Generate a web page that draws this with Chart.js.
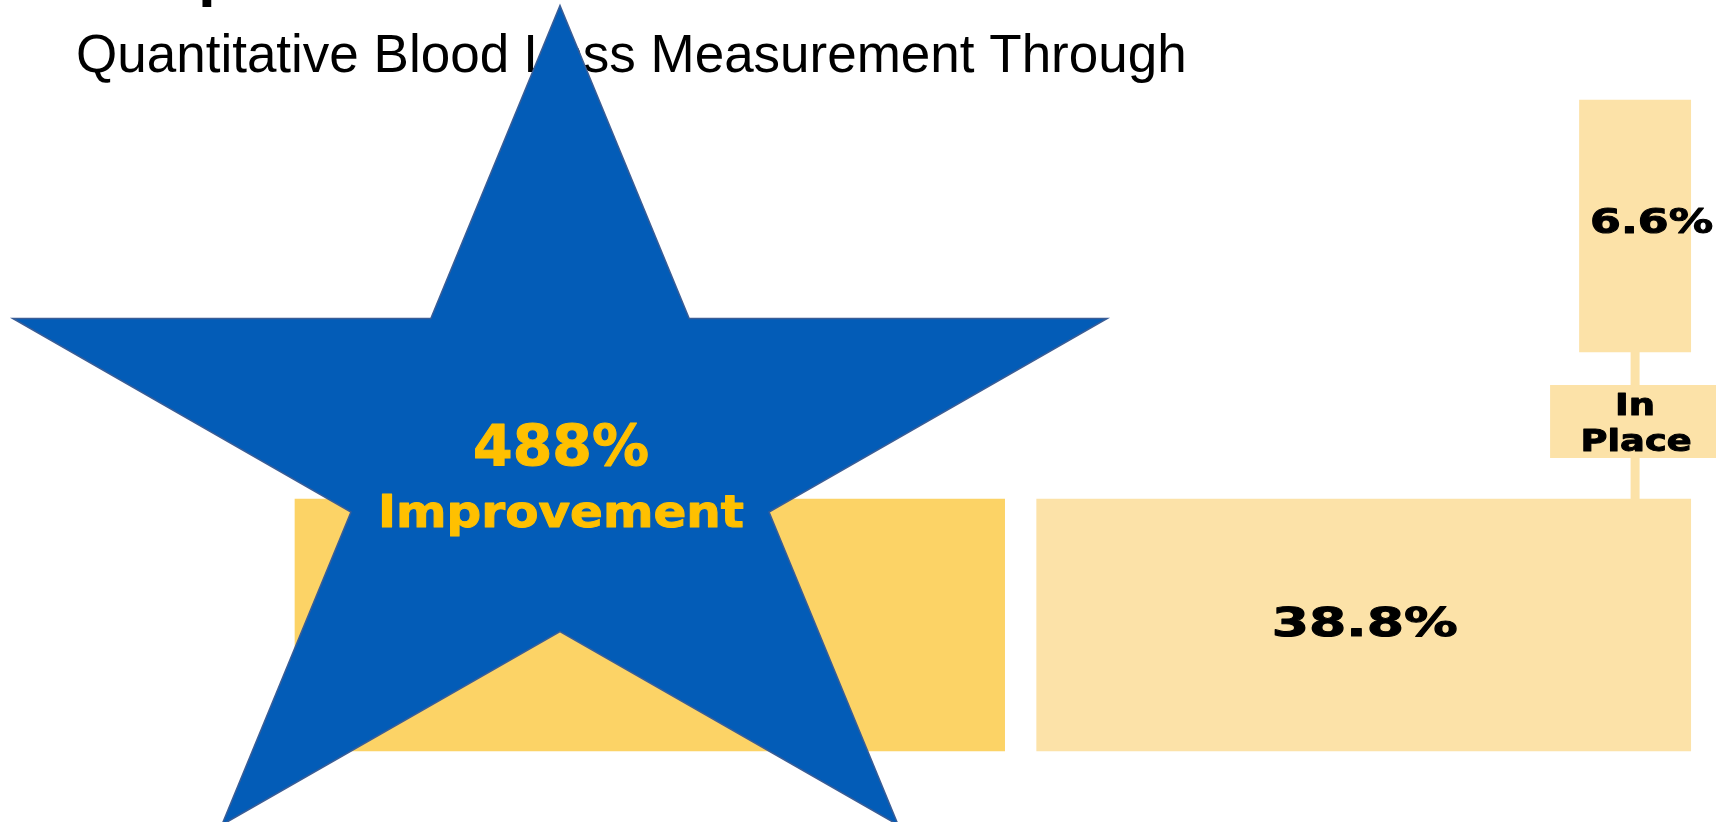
<!DOCTYPE html>
<html><head><meta charset="utf-8">
<script src="https://cdn.jsdelivr.net/npm/chart.js@4/dist/chart.umd.min.js"></script>
<style>
html,body{margin:0;padding:0;background:#fff;overflow:hidden;}
#wrap{position:relative;width:1716px;height:850px;}
</style></head><body>
<div id="wrap"><canvas id="c"></canvas></div>
<script>
// ---- data ----
const categories = ['Before', 'After'];
const inPlaceValues = [6.6, 38.8];      // light bars (right aligned)
const otherValues = [null, 42.1];       // gold bar beside the 38.8% bar
const gapValue = 1.9;
const valueLabels = ['6.6%', '38.8%'];
const titleText = 'Quantitative Blood Loss Measurement Through';
const headingFragment = 'p';
const starLines = ['488%', 'Improvement'];
const connectorLines = ['In', 'Place'];

// ---- derived ----
const rightEnd = otherValues[1] + gapValue + inPlaceValues[1];
const lightData = inPlaceValues.map(v => [rightEnd - v, rightEnd]);
const goldData = otherValues.map(v => v == null ? null : [0, v]);

const LIGHT = '#FCE2A8';
const GOLD = '#FCD366';
const BLUE = '#035CB7';
const TEXT_GOLD = '#FFC000';

function drawFit(ctx, text, cx, baseline, size, width, weight, family, color, stroke) {
  ctx.save();
  ctx.font = `${weight} ${size}px ${family}`;
  const w = ctx.measureText(text).width;
  const sx = width ? width / w : 1;
  ctx.translate(cx, baseline);
  ctx.scale(sx, 1);
  ctx.textAlign = 'center';
  ctx.textBaseline = 'alphabetic';
  ctx.fillStyle = color;
  ctx.fillText(text, 0, 0);
  if (stroke) {
    ctx.lineJoin = 'round';
    ctx.lineWidth = stroke;
    ctx.strokeStyle = color;
    ctx.strokeText(text, 0, 0);
  }
  ctx.restore();
}

const decor = {
  id: 'decor',
  beforeDatasetsDraw(chart) {
    const ctx = chart.ctx;
    ctx.save();
    ctx.beginPath();
    ctx.rect(0, 0, 1716, 83);
    ctx.clip();
    ctx.fillStyle = '#000';
    ctx.textAlign = 'left';
    ctx.textBaseline = 'alphabetic';
    ctx.font = '53px "Liberation Sans", Arial, sans-serif';
    ctx.fillText(titleText, 76, 71.5);
    ctx.font = 'bold 64px "Liberation Sans", Arial, sans-serif';
    ctx.fillText(headingFragment, 198, -6);
    ctx.restore();
  },
  afterDatasetsDraw(chart) {
    const ctx = chart.ctx;
    const light = chart.getDatasetMeta(0).data;
    const top = light[0], bot = light[1];
    // connector + "In Place" box
    const cx = top.x - (top.x - top.base) / 2;
    const y0 = top.y + top.height / 2;
    const y1 = bot.y - bot.height / 2;
    ctx.save();
    ctx.fillStyle = LIGHT;
    ctx.fillRect(cx - 4.5, y0, 9, y1 - y0);
    const boxTop = 385, boxH = 73;
    ctx.fillRect(cx - 85, boxTop, 170, boxH);
    drawFit(ctx, connectorLines[0], cx, 415, 30, 40, 'bold', '"DejaVu Sans"', '#000', 1);
    drawFit(ctx, connectorLines[1], cx + 1, 451, 30, 111, 'bold', '"DejaVu Sans"', '#000', 1);
    // value labels
    const lx0 = top.x - (top.x - top.base) / 2;
    drawFit(ctx, valueLabels[0], lx0 + 16.5, top.y + 7, 34, 123, 'bold', '"DejaVu Sans"', '#000', 1);
    const lx1 = bot.x - (bot.x - bot.base) / 2;
    drawFit(ctx, valueLabels[1], lx1 + 1, bot.y + 11, 38.5, 186, 'bold', '"DejaVu Sans"', '#000', 1);
    ctx.restore();
  },
  afterDraw(chart) {
    const ctx = chart.ctx;
    // star
    const scx = 560, scy = 458.5, rx = 575.4, ry = 453, inner = 0.382;
    ctx.save();
    ctx.beginPath();
    for (let i = 0; i < 10; i++) {
      const a = -Math.PI / 2 + i * Math.PI / 5;
      const r = i % 2 === 0 ? 1 : inner;
      const x = scx + rx * r * Math.cos(a);
      const y = scy + ry * r * Math.sin(a);
      if (i === 0) ctx.moveTo(x, y); else ctx.lineTo(x, y);
    }
    ctx.closePath();
    ctx.fillStyle = BLUE;
    ctx.fill();
    ctx.lineWidth = 1.5;
    ctx.strokeStyle = '#3A5D96';
    ctx.stroke();
    drawFit(ctx, starLines[0], 561, 466, 57, 176, 'bold', '"DejaVu Sans"', TEXT_GOLD, 1);
    drawFit(ctx, starLines[1], 561, 527, 45, 366, 'bold', '"DejaVu Sans"', TEXT_GOLD, 1);
    ctx.restore();
  }
};

new Chart(document.getElementById('c'), {
  type: 'bar',
  data: {
    labels: categories,
    datasets: [
      { label: 'In place', data: lightData, backgroundColor: LIGHT, grouped: false, barThickness: 252, borderWidth: 0 },
      { label: 'Other', data: goldData, backgroundColor: GOLD, grouped: false, barThickness: 252, borderWidth: 0 }
    ]
  },
  options: {
    indexAxis: 'y',
    responsive: true,
    maintainAspectRatio: false,
    animation: false,
    layout: { padding: { left: 0, right: 0, top: 26.5, bottom: 25.5 } },
    plugins: { legend: { display: false }, tooltip: { enabled: false }, title: { display: false } },
    scales: {
      x: { type: 'linear', min: -17.5, max: 84.3, display: false },
      y: { type: 'category', display: false, offset: true }
    }
  },
  plugins: [decor]
});
</script>
</body></html>
